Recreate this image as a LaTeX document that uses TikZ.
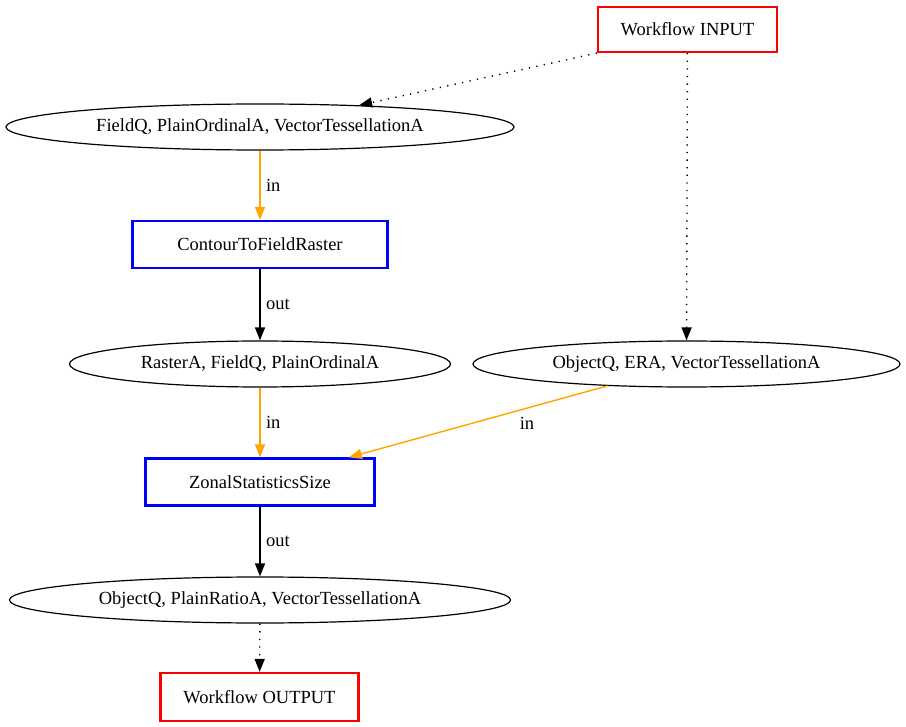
\documentclass[tikz,border=0pt]{standalone}
\usepackage{fontspec}
\setmainfont{Liberation Serif}
\usetikzlibrary{shapes.geometric,arrows.meta}
\definecolor{gvorange}{RGB}{255,165,0}
\begin{document}
\begin{tikzpicture}[x=1pt,y=-1pt,
  every node/.style={font=\fontsize{18.5}{22}\selectfont},
  io/.style={draw=red, line width=2.2pt, minimum height=45pt, inner sep=0pt},
  proc/.style={draw=blue, line width=2.2pt, minimum height=47pt, inner sep=0pt},
  data/.style={draw=black, line width=1.2pt, ellipse, minimum height=46pt, inner sep=0pt},
  flow/.style={line width=1.4pt, -{Triangle[length=13pt,width=10pt]}},
  inflow/.style={flow, draw=gvorange, -{Triangle[length=13pt,width=10pt,fill=gvorange]}},
  outflow/.style={flow, draw=black},
  wire/.style={flow, draw=black, dash pattern=on 1.3pt off 6.3pt},
  lbl/.style={font=\fontsize{18.5}{22}\selectfont}]
\useasboundingbox (0,0) rectangle (906,727);

% processes, data sets and workflow end points
\node[io, minimum width=179pt] (in) at (687.5,29.5) {Workflow INPUT};
\node[data, minimum width=508pt] (fq) at (260,127) {FieldQ, PlainOrdinalA, VectorTessellationA};
\node[proc, minimum width=255pt] (cf) at (260,244.5) {ContourToFieldRaster};
\node[data, minimum width=381pt] (ra) at (260,364) {RasterA, FieldQ, PlainOrdinalA};
\node[data, minimum width=427pt] (era) at (686.5,364) {ObjectQ, ERA, VectorTessellationA};
\node[proc, minimum width=229pt] (zs) at (260,482) {ZonalStatisticsSize};
\node[data, minimum width=501pt] (pr) at (260,600) {ObjectQ, PlainRatioA, VectorTessellationA};
\node[io, minimum width=198pt, minimum height=48pt] (out) at (259.5,697) {Workflow OUTPUT};

% connectors
\draw[wire] (in.south west) -- (fq);
\draw[wire] (in) -- (era);
\draw[inflow] (fq) -- (cf) node[lbl, pos=0.5, right=2pt] {in};
\draw[outflow] (cf) -- (ra) node[lbl, pos=0.5, right=2pt] {out};
\draw[inflow] (ra) -- (zs) node[lbl, pos=0.5, right=2pt] {in};
\draw[inflow] (era) -- (zs) node[lbl] at (527,423) {in};
\draw[outflow] (zs) -- (pr) node[lbl, pos=0.5, right=2pt] {out};
\draw[wire] (pr) -- (out);
\end{tikzpicture}
\end{document}
